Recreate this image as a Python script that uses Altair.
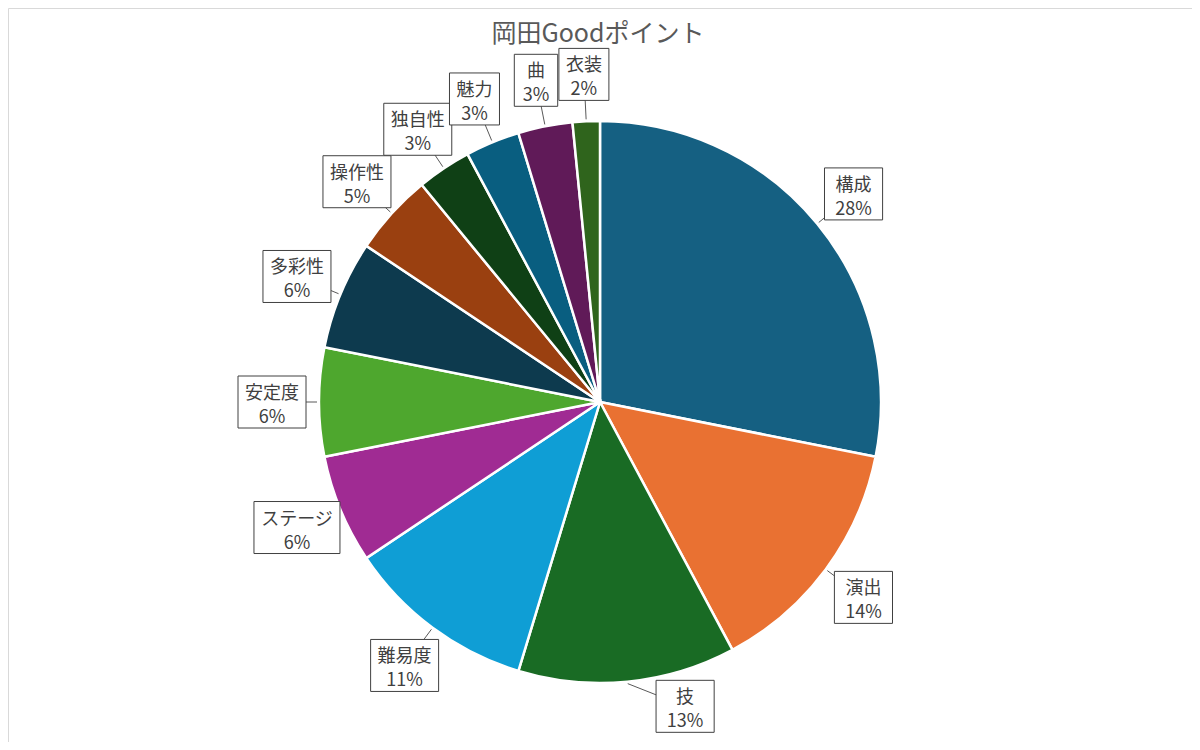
import altair as alt
import pandas as pd

# ---- data ----
categories = ["構成", "演出", "技", "難易度", "ステージ", "安定度", "多彩性", "操作性", "独自性", "魅力", "曲", "衣装"]
counts = [18, 9, 8, 7, 4, 4, 4, 3, 2, 2, 2, 1]
colors = ["#156082", "#E97132", "#196B24", "#0F9ED5", "#A02B93", "#4EA72E",
          "#0D3A4E", "#9A4010", "#0F4015", "#095E80", "#601A58", "#2F641C"]
title_text = ["岡田Goodポイント"]

df = pd.DataFrame({"cat": categories, "count": counts, "idx": list(range(len(categories)))})

# ---- layout ----
W, H = 1184, 734
CX, CY = 592, 394      # pie centre (view pixels)
R = 281                # pie radius
LR = 328               # label centre radius
TIP = 283              # pointer tip radius
FONT = "Noto Sans CJK JP"

base = alt.Chart(df)

pie = base.mark_arc(radius=R, stroke="white", strokeWidth=2.5).encode(
    theta=alt.Theta("count:Q", stack=True),
    order=alt.Order("idx:Q", sort="ascending"),
    color=alt.Color("cat:N", scale=alt.Scale(domain=categories, range=colors), legend=None),
    x=alt.value(CX),
    y=alt.value(CY),
)

lab = (
    base.transform_joinaggregate(total="sum(count)")
    .transform_window(cum="sum(count)", sort=[alt.SortField("idx")], frame=[None, 0])
    .transform_calculate(mid="(datum.cum - datum.count / 2) / datum.total * 2 * PI")
    .transform_calculate(nudge="datum.cat === '技' ? -10 * PI / 180 : 0")
    .transform_calculate(lr=f"datum.cat === '技' ? 316 : {LR}")
    .transform_calculate(la="datum.mid + datum.nudge")
    .transform_calculate(lx=f"{CX} + datum.lr * sin(datum.la)")
    .transform_calculate(ly=f"{CY} - datum.lr * cos(datum.la)")
    .transform_calculate(tx=f"{CX} + {TIP} * sin(datum.mid)")
    .transform_calculate(ty=f"{CY} - {TIP} * cos(datum.mid)")
    .transform_calculate(pct="format(datum.count / datum.total, '.0%')")
    .transform_calculate(bw="max(length(datum.cat) * 18, length(datum.pct) * 14.7) + 14")
    .transform_calculate(bx1="datum.lx - datum.bw / 2")
    .transform_calculate(bx2="datum.lx + datum.bw / 2")
    .transform_calculate(by1="datum.ly - 26")
    .transform_calculate(by2="datum.ly + 26")
    .transform_calculate(txt="[datum.cat, datum.pct]")
)

pointers = lab.mark_rule(color="#595959", strokeWidth=1).encode(
    x=alt.X("lx:Q", scale=None, axis=None),
    y=alt.Y("ly:Q", scale=None, axis=None),
    x2="tx:Q",
    y2="ty:Q",
)

boxes = lab.mark_rect(fill="white", stroke="#404040", strokeWidth=1).encode(
    x=alt.X("bx1:Q", scale=None, axis=None),
    x2="bx2:Q",
    y=alt.Y("by1:Q", scale=None, axis=None),
    y2="by2:Q",
)

texts = lab.mark_text(font=FONT, fontSize=18, color="#404040", lineHeight=24,
                      align="center", baseline="middle", dy=-8).encode(
    x=alt.X("lx:Q", scale=None, axis=None),
    y=alt.Y("ly:Q", scale=None, axis=None),
    text="txt:N",
)

title = alt.Chart(pd.DataFrame({"t": title_text})).mark_text(
    font=FONT, fontSize=25, color="#595959", align="center", baseline="middle"
).encode(text="t:N", x=alt.value(590), y=alt.value(26))

chart = (
    alt.layer(pie, pointers, boxes, texts, title)
    .properties(width=W, height=H, autosize="none", padding=0)
    .configure_view(stroke="#D9D9D9", strokeWidth=1)
)

chart.save("out.html", embed_options={"renderer": "svg", "actions": False})
